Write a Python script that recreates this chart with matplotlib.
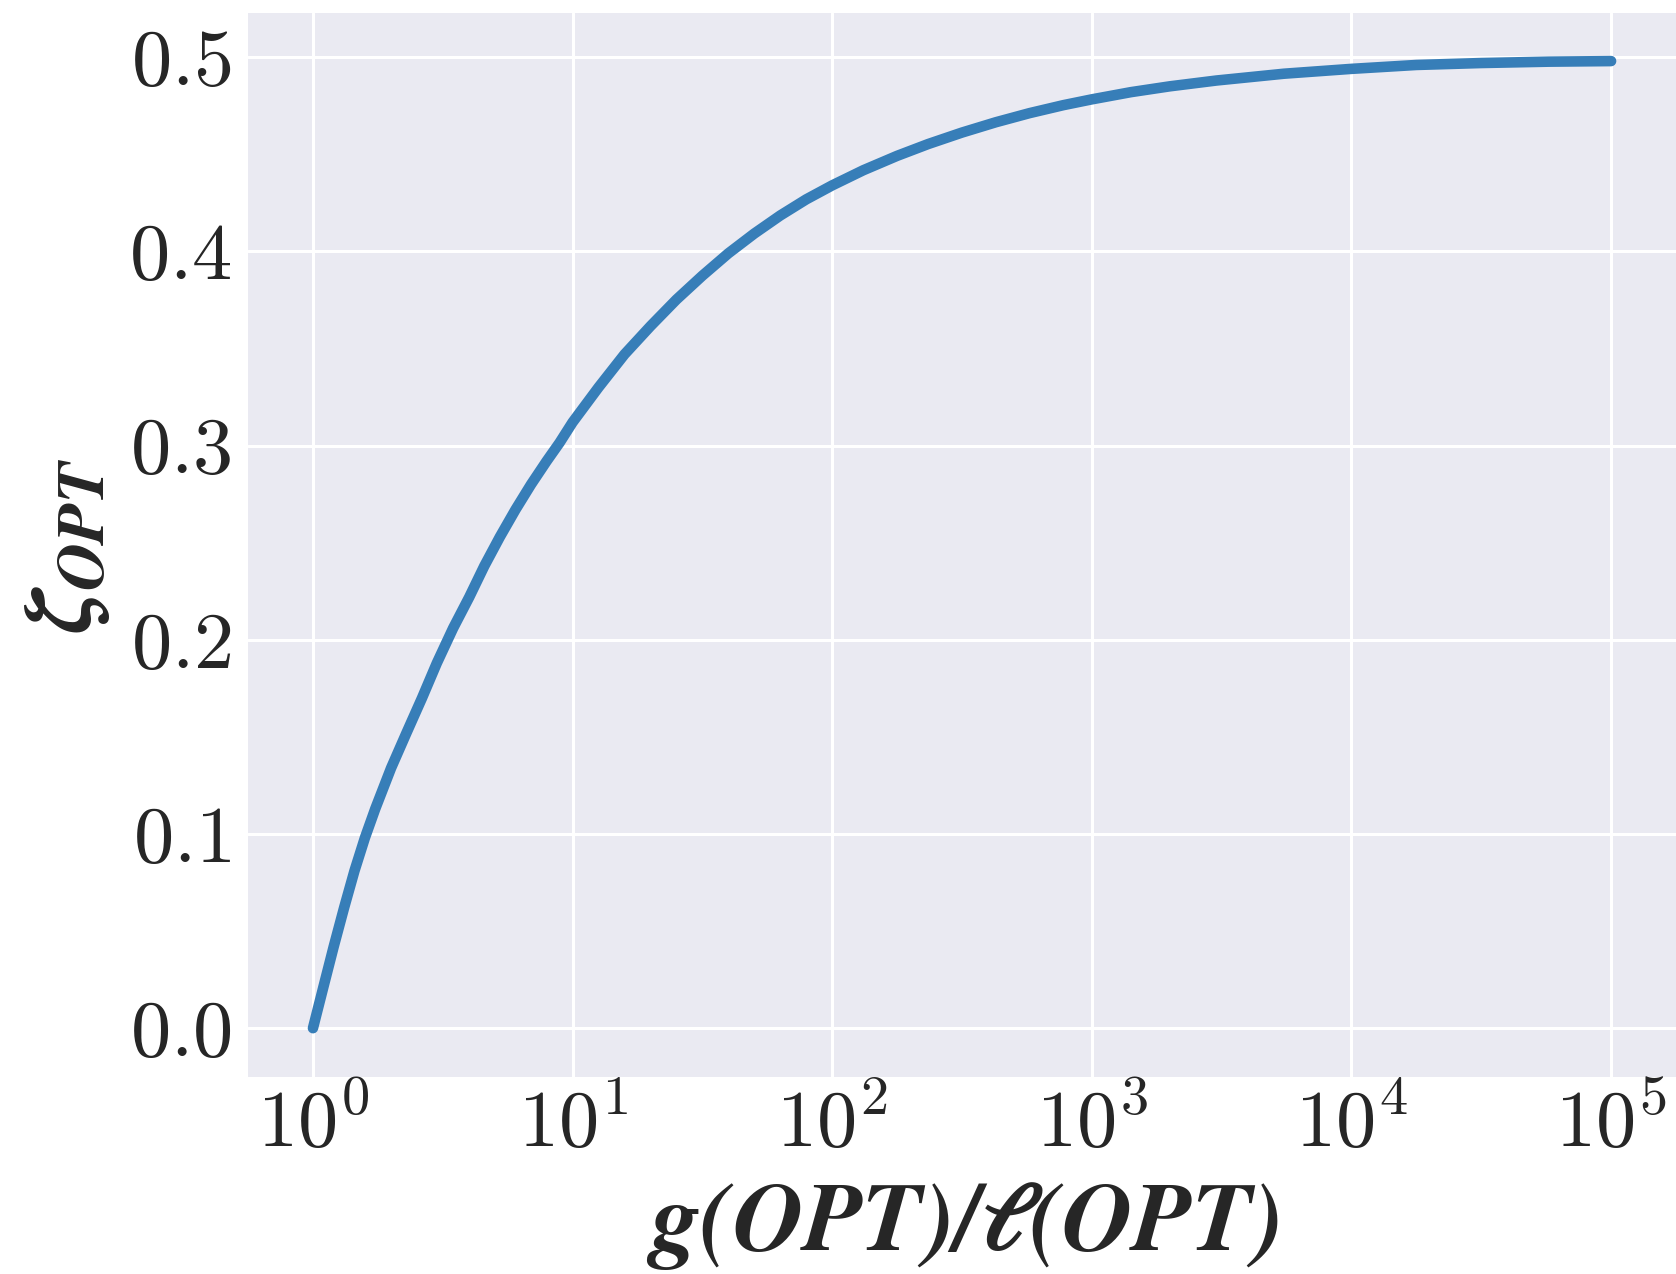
import numpy as np
import matplotlib
matplotlib.use("Agg")
import matplotlib.pyplot as plt

# -----------------------------
# Datos
# -----------------------------

ratio = [1, 1.096, 1.202, 1.318, 1.445, 1.585, 1.738, 2, 2.291, 2.630, 3,
         3.467, 4, 4.571, 5.248, 6.026, 6.918, 7.943, 8.913, 10, 12.59,
         15.85, 19.95, 25.12, 31.62, 39.81, 50.12, 63.10, 79.43, 100, 131.8,
         177.8, 234.4, 316.2, 426.6, 575.4, 776.2, 1000, 1413, 1995, 3020,
         5495, 10000, 17780, 31620, 57540, 100000]

zeta = [0.000, 0.021, 0.042, 0.062, 0.081, 0.098, 0.113, 0.134, 0.152, 0.170,
        0.188, 0.206, 0.222, 0.238, 0.253, 0.267, 0.280, 0.292, 0.3015, 0.312,
        0.330, 0.347, 0.3615, 0.3752, 0.3875, 0.3990, 0.4092, 0.4185, 0.4268,
        0.434, 0.4418, 0.4492, 0.4553, 0.4612, 0.4665, 0.4712, 0.4753, 0.4783,
        0.482, 0.485, 0.488, 0.4915, 0.494, 0.496, 0.497, 0.4977, 0.498]

yticks = [0.0, 0.1, 0.2, 0.3, 0.4, 0.5]
xticks = [1, 10, 100, 1000, 10000, 100000]

# -----------------------------
# Estilo
# -----------------------------

plt.style.use("seaborn-v0_8-darkgrid")
plt.rcParams["font.family"] = "serif"
plt.rcParams["font.serif"] = ["cmr10"]
plt.rcParams["mathtext.fontset"] = "cm"
plt.rcParams["axes.formatter.use_mathtext"] = True
plt.rcParams["axes.unicode_minus"] = False

fig = plt.figure(figsize=(8.38, 6.37), dpi=200)
ax = fig.add_axes([0.148, 0.155, 0.852, 0.835])

ax.plot(ratio, zeta, color="#377eb8", linewidth=3.8,
        solid_capstyle="round", solid_joinstyle="round")

ax.set_xscale("log")
ax.set_xticks(xticks)
ax.set_yticks(yticks)
ax.set_yticklabels([f"${v:.1f}$" for v in yticks])
ax.minorticks_off()

ax.tick_params(axis="both", labelsize=29, colors="#262626")
ax.tick_params(axis="y", pad=6)
ax.tick_params(axis="x", pad=4)

ax.grid(True, color="white", linewidth=1.1)

ax.set_xlabel(r"$\mathbfit{g(OPT)/\ell(OPT)}$", fontsize=35,
              math_fontfamily="stix", color="#262626", labelpad=6)
ax.set_ylabel(r"$\mathbfit{\zeta_{OPT}}$", fontsize=34,
              math_fontfamily="stix", color="#262626", labelpad=6)

fig.savefig("out.png", dpi=200)
